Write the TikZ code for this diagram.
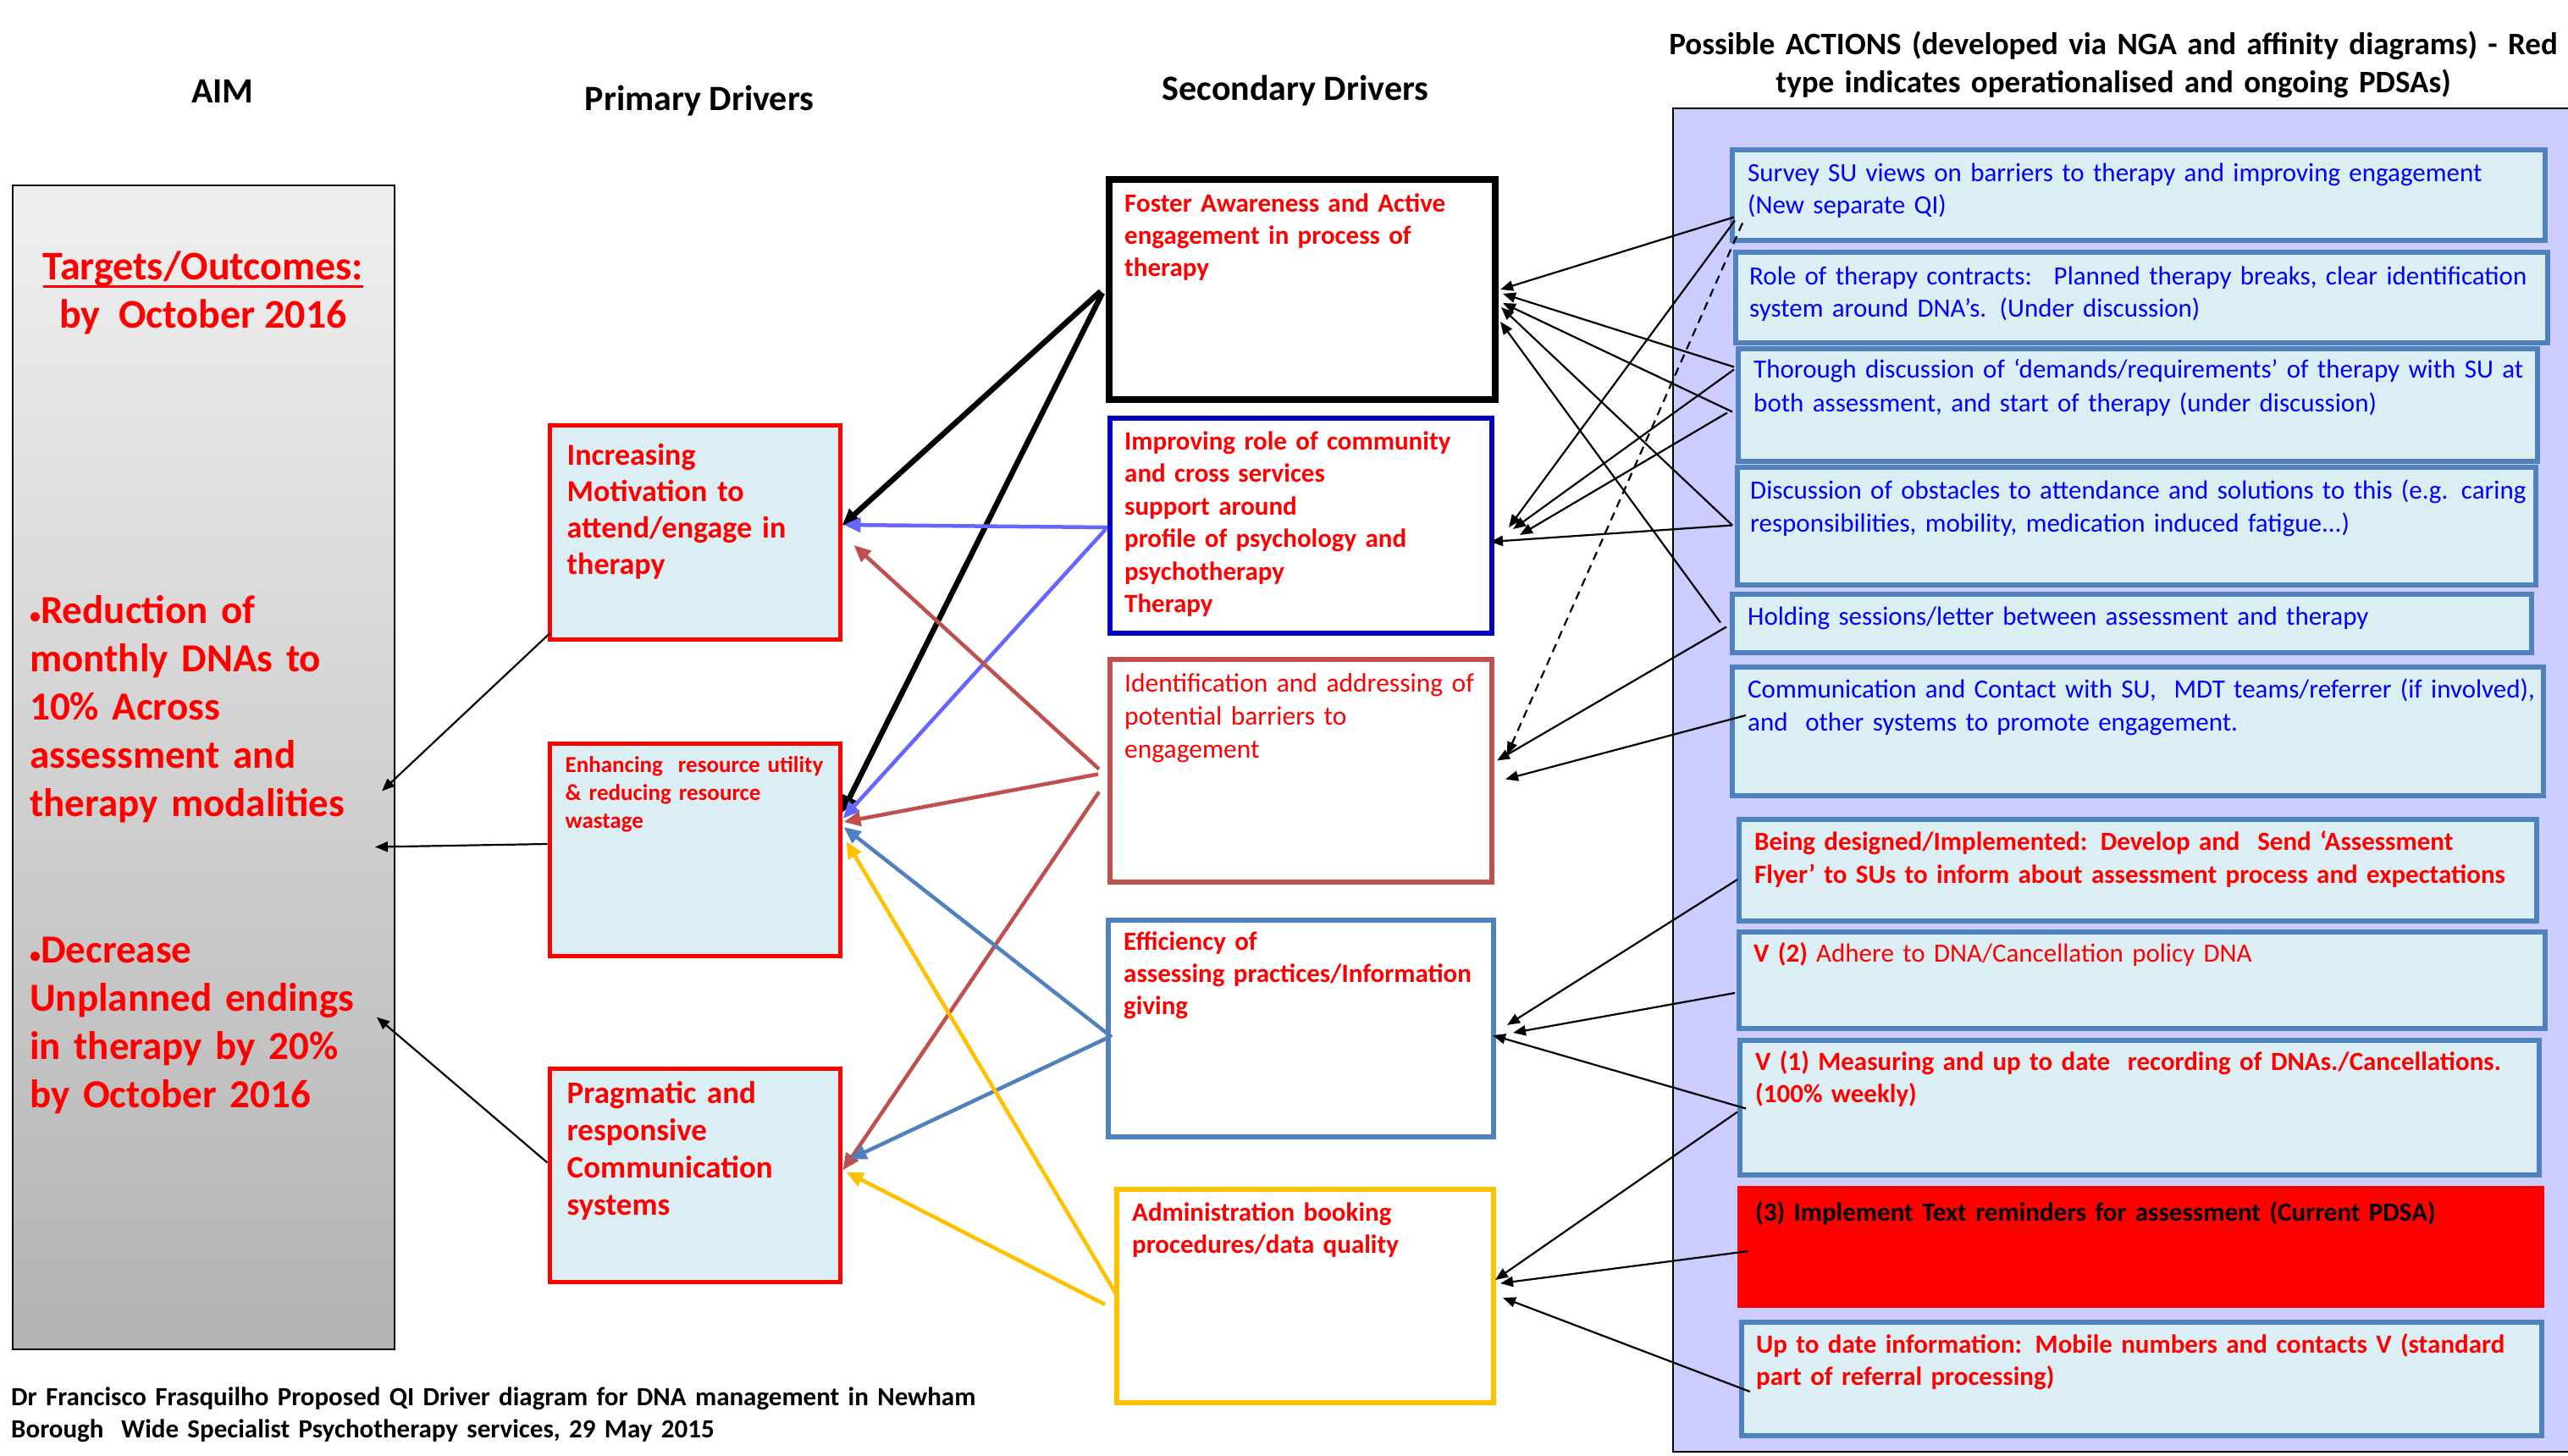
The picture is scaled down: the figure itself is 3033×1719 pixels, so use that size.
\documentclass[tikz,border=0pt]{standalone}
\usepackage{fontspec}
\setmainfont{Carlito}
\usetikzlibrary{arrows.meta,calc}
\definecolor{aimred}{HTML}{FF0000}
\definecolor{paleblue}{HTML}{DBEEF4}
\definecolor{panelblue}{HTML}{CCCCFF}
\definecolor{navyedge}{HTML}{0000C0}
\definecolor{brick}{HTML}{C0504D}
\definecolor{steel}{HTML}{4F81BD}
\definecolor{amber}{HTML}{FFC000}
\definecolor{lilacar}{HTML}{6666FF}
\definecolor{actblue}{HTML}{0000FF}
\newcommand{\fsz}[2]{\fontsize{#1}{#2}\selectfont}

\begin{document}
\begin{tikzpicture}[x=1pt,y=-1pt,
 box/.style={draw,rectangle,anchor=north west,outer sep=0pt,inner sep=0pt},
 prim/.style={box,draw=aimred,fill=paleblue,line width=5pt,minimum width=343pt},
 sec/.style={box,fill=white,line width=6pt},
 act/.style={box,draw=steel,fill=paleblue,line width=6pt},
 txt/.style={anchor=base west,inner sep=0pt,align=left,text width=#1},
 txt/.default=1000pt,
 hd/.style={anchor=base,inner sep=0pt,font=\bfseries\fsz{42}{50}},
 thinar/.style={-{Triangle[length=15pt,width=12pt]},line width=2.2pt,draw=black},
 drv/.style={-{Triangle[length=20pt,width=17pt]},line width=4.5pt,draw=#1}]
\useasboundingbox (0,0) rectangle (3033,1719);
\clip (0,0) rectangle (3033,1719);
\fill[white] (0,0) rectangle (3033,1719);

% column headings
\node[hd] (hdaim) at (263,121) {AIM};
\node[hd] (hdprim) at (826,130) {Primary Drivers};
\node[hd] (hdsec) at (1530,118) {Secondary Drivers};
\node[hd,align=center,text width=1100pt,font=\bfseries\fsz{37}{45}] (hdact) at (2496,64)
 {Possible ACTIONS (developed via NGA and affinity diagrams) - Red\\type indicates operationalised and ongoing PDSAs)};

% aim
\node[box,draw=black,line width=2.5pt,top color=black!6,bottom color=black!30,
 minimum width=451pt,minimum height=1375pt] (aim) at (15,219) {};
\node[anchor=base,inner sep=0pt,text=aimred,font=\bfseries\fsz{48}{57}] (tgt) at (240,330) {Targets/Outcomes:};
\draw[aimred,line width=3pt] ($(tgt.base west)+(0,8)$) -- ($(tgt.base east)+(0,8)$);
\node[anchor=base,inner sep=0pt,text=aimred,font=\bfseries\fsz{48}{57}] (tgtby) at (240,387) {by~~October 2016};
\node[txt=430pt,text=aimred,font=\bfseries\fsz{47}{57}] (aimone) at (35,736)
 {{\fsz{26}{26}•}Reduction of\\monthly DNAs to\\10\% Across\\assessment and\\therapy modalities};
\node[txt=430pt,text=aimred,font=\bfseries\fsz{47}{57}] (aimtwo) at (35,1137)
 {{\fsz{26}{26}•}Decrease\\Unplanned endings\\in therapy by 20\%\\by October 2016};

% primary drivers
\node[prim,minimum height=253pt] (incr) at (649.5,502.5) {};
\node[prim,minimum height=251pt] (enh) at (649.5,878.5) {};
\node[prim,minimum height=252pt] (prag) at (649.5,1262.5) {};
\node[txt=320pt,text=aimred,font=\bfseries\fsz{36}{43}] (incr-t) at ($(incr.north west)+(20,47)$)
 {Increasing\\Motivation to\\attend/engage in\\therapy};
\node[txt=320pt,text=aimred,font=\bfseries\fsz{27}{33}] (enh-t) at ($(enh.north west)+(18,34)$)
 {Enhancing~~resource utility\\\& reducing resource\\wastage};
\node[txt=320pt,text=aimred,font=\bfseries\fsz{37}{44}] (prag-t) at ($(prag.north west)+(20,41)$)
 {Pragmatic and\\responsive\\Communication\\systems};

% secondary drivers
\node[sec,draw=black,line width=8pt,minimum width=456pt,minimum height=260pt] (foster) at (1310,212) {};
\node[sec,draw=navyedge,minimum width=451pt,minimum height=254pt] (comm) at (1311,494) {};
\node[sec,draw=brick,minimum width=451pt,minimum height=263pt] (ident) at (1311,779) {};
\node[sec,draw=steel,minimum width=455pt,minimum height=256pt] (effic) at (1309,1087) {};
\node[sec,draw=amber,minimum width=445pt,minimum height=252pt] (admin) at (1319,1405) {};
\node[txt=440pt,text=aimred,font=\bfseries\fsz{31}{38}] (foster-t) at ($(foster.north west)+(18,38)$)
 {Foster Awareness and Active\\engagement in process of\\therapy};
\node[txt=440pt,text=aimred,font=\bfseries\fsz{31}{38.5}] (comm-t) at ($(comm.north west)+(17,37)$)
 {Improving role of community\\and cross services\\support around\\profile of psychology and\\psychotherapy\\Therapy};
\node[txt=440pt,text=aimred,font=\fsz{31.5}{39}] (ident-t) at ($(ident.north west)+(17,38)$)
 {Identification and addressing of\\potential barriers to\\engagement};
\node[txt=440pt,text=aimred,font=\bfseries\fsz{31}{38}] (effic-t) at ($(effic.north west)+(18,35)$)
 {Efficiency of\\assessing practices/Information\\giving};
\node[txt=440pt,text=aimred,font=\bfseries\fsz{31}{38}] (admin-t) at ($(admin.north west)+(18,37)$)
 {Administration booking\\procedures/data quality};

% possible actions
\node[box,draw=black,line width=2.5pt,fill=panelblue,minimum width=1080pt,minimum height=1587pt] (panel) at (1976,128) {};
\node[act,minimum width=960pt,minimum height=107pt] (survey) at (2046,177) {};
\node[act,minimum width=959pt,minimum height=107pt] (contract) at (2050,298) {};
\node[act,minimum width=944pt,minimum height=133pt] (thorough) at (2053,412) {};
\node[act,minimum width=943pt,minimum height=139pt] (obstacle) at (2052,552) {};
\node[act,minimum width=944pt,minimum height=69pt] (holding) at (2046,702) {};
\node[act,minimum width=958pt,minimum height=152pt] (contact) at (2046,788) {};
\node[act,minimum width=942pt,minimum height=120pt] (flyer) at (2054,968) {};
\node[act,minimum width=952pt,minimum height=114pt] (policy) at (2054,1101) {};
\node[act,minimum width=944pt,minimum height=159pt] (measure) at (2055,1229) {};
\node[box,draw=none,fill=aimred,minimum width=953pt,minimum height=144pt] (reminder) at (2052,1401) {};
\node[act,minimum width=945pt,minimum height=134pt] (mobile) at (2057,1562) {};
\node[txt,text=actblue,font=\fsz{31}{38}] (survey-t) at ($(survey.north west)+(18,37)$)
 {Survey SU views on barriers to therapy and improving engagement\\(New separate QI)};
\node[txt,text=actblue,font=\fsz{31}{38}] (contract-t) at ($(contract.north west)+(16,38)$)
 {Role of therapy contracts:~ Planned therapy breaks, clear identification\\system around DNA’s. (Under discussion)};
\node[txt,text=actblue,font=\fsz{31}{40}] (thorough-t) at ($(thorough.north west)+(18,34)$)
 {Thorough discussion of ‘demands/requirements’ of therapy with SU at\\both assessment, and start of therapy (under discussion)};
\node[txt,text=actblue,font=\fsz{31}{39}] (obstacle-t) at ($(obstacle.north west)+(15,37)$)
 {Discussion of obstacles to attendance and solutions to this (e.g. caring\\responsibilities, mobility, medication induced fatigue...)};
\node[txt,text=actblue,font=\fsz{31}{38}] (holding-t) at ($(holding.north west)+(18,36)$)
 {Holding sessions/letter between assessment and therapy};
\node[txt,text=actblue,font=\fsz{31}{39}] (contact-t) at ($(contact.north west)+(18,36)$)
 {Communication and Contact with SU,~ MDT teams/referrer (if involved),\\and~~other systems to promote engagement.};
\node[txt,text=aimred,font=\bfseries\fsz{31}{39}] (flyer-t) at ($(flyer.north west)+(18,36)$)
 {Being designed/Implemented: Develop and~~Send ‘Assessment\\Flyer’ to SUs to inform about assessment process and expectations};
\node[txt,text=aimred,font=\fsz{31}{38}] (policy-t) at ($(policy.north west)+(17,35)$)
 {\textbf{V (2)} Adhere to DNA/Cancellation policy DNA};
\node[txt,text=aimred,font=\bfseries\fsz{31}{38}] (measure-t) at ($(measure.north west)+(18,35)$)
 {V (1) Measuring and up to date~~recording of DNAs./Cancellations.\\(100\% weekly)};
\node[txt,text=black,font=\bfseries\fsz{31}{38}] (reminder-t) at ($(reminder.north west)+(21,41)$)
 {(3) Implement Text reminders for assessment (Current PDSA)};
\node[txt,text=aimred,font=\bfseries\fsz{31}{38}] (mobile-t) at ($(mobile.north west)+(17,36)$)
 {Up to date information: Mobile numbers and contacts~V (standard\\part of referral processing)};

% footer
\node[txt=1300pt,font=\bfseries\fsz{31}{38}] (foot) at (13,1660)
 {Dr Francisco Frasquilho Proposed QI Driver diagram for DNA management in Newham\\Borough~~Wide Specialist Psychotherapy services, 29~May 2015};

% primary drivers to aim
\draw[thinar] ($(incr.west)+(0,119)$) -- ($(aim.east)+(-15,28)$);
\draw[thinar] ($(enh.west)+(-3,-7)$) -- ($(aim.east)+(-23,94)$);
\draw[thinar] ($(prag.west)+(-3,-15)$) -- ($(aim.east)+(-21,295)$);

% secondary drivers to primary drivers
\draw[drv=black,line width=6.5pt] ($(foster.west)+(-10,2)$) -- ($(incr.east)+(2,-8)$);
\draw[drv=black,line width=6.5pt] ($(foster.west)+(-8,4)$) -- ($(enh.east)+(2,-44)$);
\foreach \c/\s/\sx/\sy/\t/\tx/\ty in {lilacar/comm/-3/2/incr/4/-9, lilacar/comm/-5/4/enh/3/-37,
 brick/ident/-13/-2/incr/16/15, brick/ident/-14/4/enh/4/-33, brick/ident/-13/25/prag/3/-6,
 steel/effic/4/10/enh/4/-27, steel/effic/-1/11/prag/11/-19,
 amber/admin/0/-1/enh/7/-10, amber/admin/-14/10/prag/7/-4}
 {\draw[drv=\c] ($(\s.west)+(\sx,\sy)$) -- ($(\t.east)+(\tx,\ty)$);}

% actions to secondary drivers
\foreach \s/\sx/\sy/\t/\tx/\ty in {survey/2/26/foster/6/0, thorough/-5/-45/foster/9/5,
 thorough/-7/8/foster/9/16, obstacle/-6/-1/foster/7/21, holding/-14/-1/foster/6/38,
 survey/3/30/comm/20/2, thorough/-5/-42/comm/25/4, thorough/-13/9/comm/33/11,
 obstacle/-6/-1/comm/-2/19, holding/-7/4/ident/6/-12, contact/16/-19/ident/16/10,
 flyer/-2/11/effic/16/-4, policy/-5/15/effic/23/5, measure/7/1/effic/-1/8,
 measure/-3/5/admin/2/-19, reminder/13/5/admin/8/-15, mobile/10/15/admin/11/2}
 {\draw[thinar] ($(\s.west)+(\sx,\sy)$) -- ($(\t.east)+(\tx,\ty)$);}
\draw[thinar,dashed,dash pattern=on 10pt off 7pt] ($(survey.west)+(12,33)$) -- ($(ident.east)+(18,-19)$);
\end{tikzpicture}
\end{document}
